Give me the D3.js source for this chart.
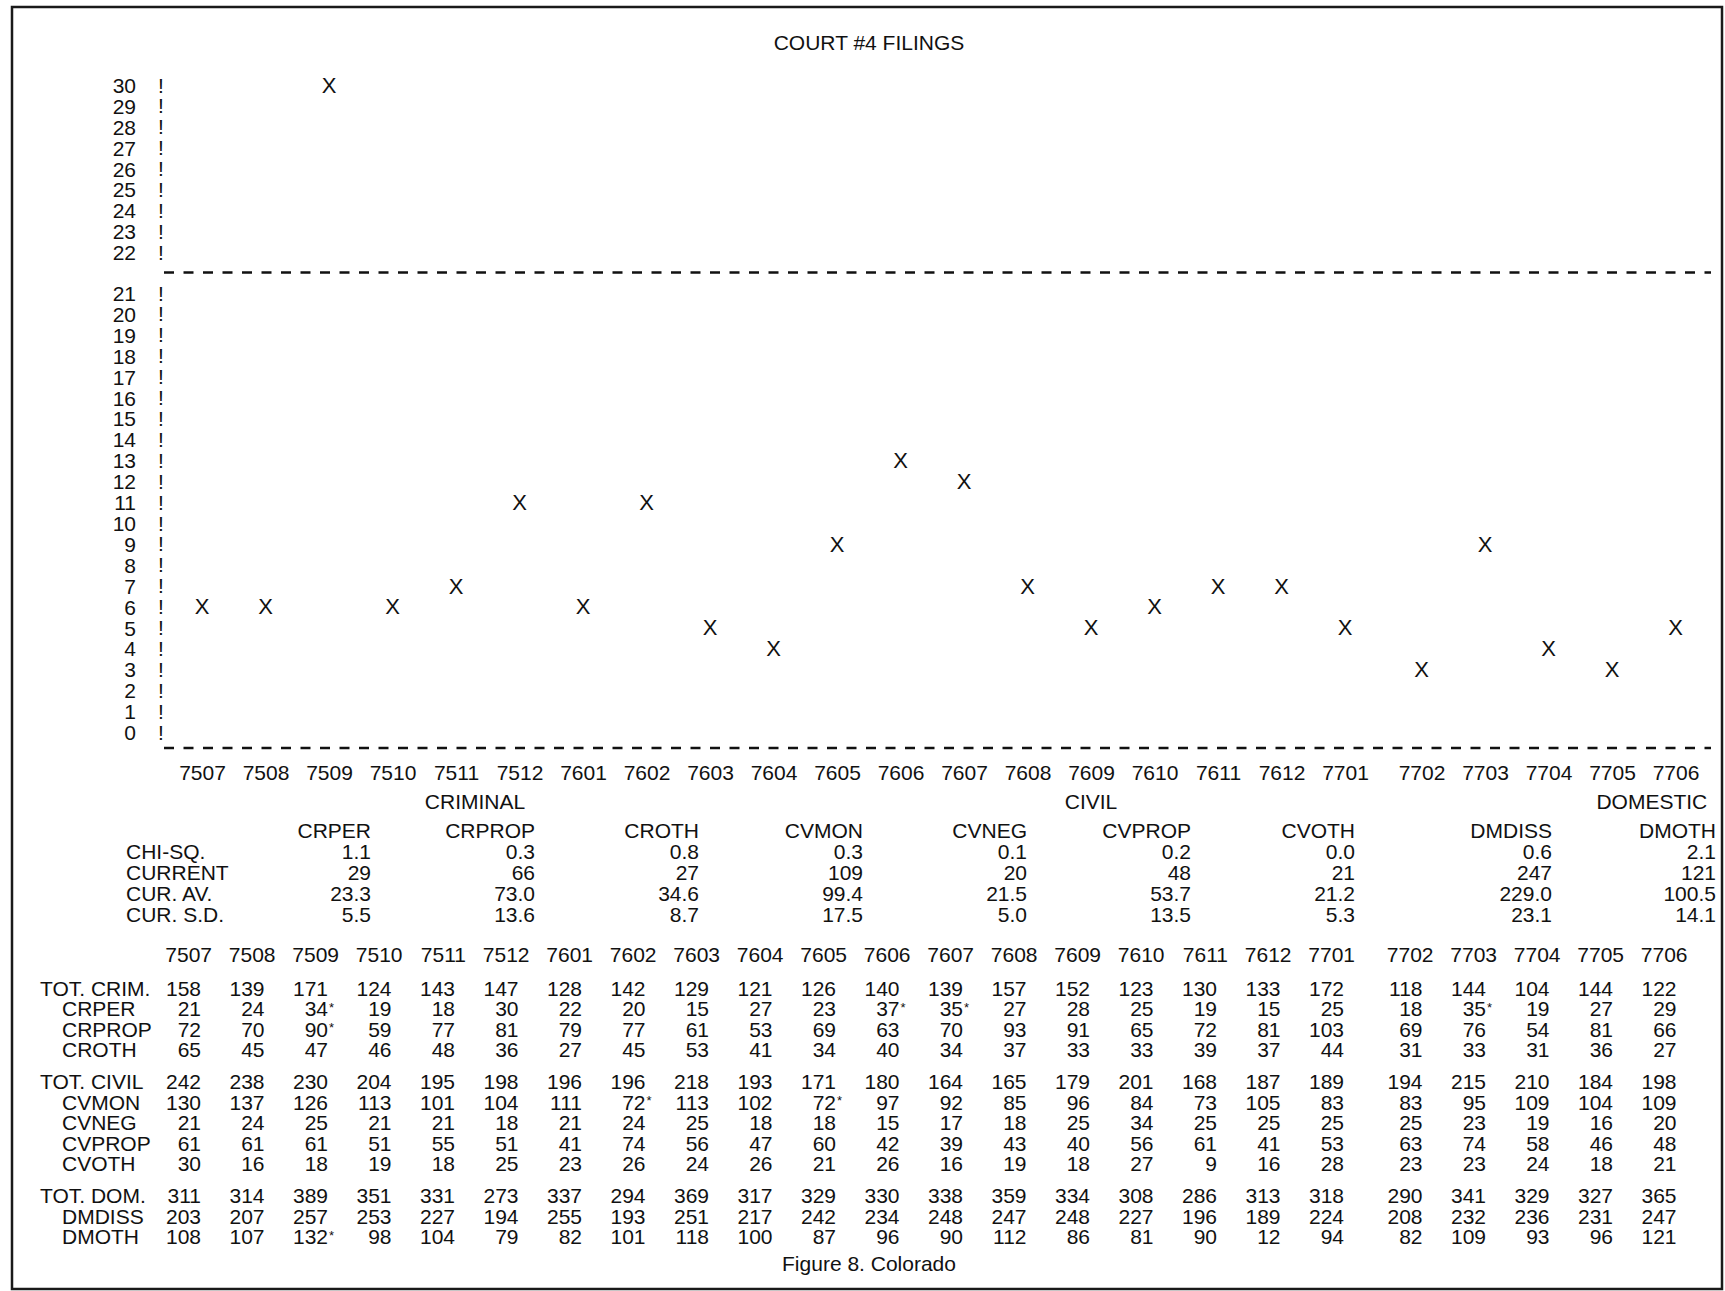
<!DOCTYPE html>
<html>
<head>
<meta charset="utf-8">
<script src="https://cdn.jsdelivr.net/npm/d3@7"></script>
<style>
  body { margin: 0; background: #fff; }
  text { font-family: "Liberation Sans", Arial, sans-serif; font-size: 21px; fill: #111; }
</style>
</head>
<body>
<div id="canvas"></div>
<script>
var width = 1725;
var height = 1291;

// months of the series
var months = ["7507","7508","7509","7510","7511","7512",
              "7601","7602","7603","7604","7605","7606","7607","7608","7609","7610","7611","7612",
              "7701","7702","7703","7704","7705","7706"];

// plotted values (one X per month)
var plotValues = [6, 6, 30, 6, 7, 11, 6, 11, 5, 4, 9, 13, 12, 7, 5, 6, 7, 7, 5, 3, 9, 4, 3, 5];

var yTicks = d3.range(0, 31);

var groups = ["CRIMINAL", "CIVIL", "DOMESTIC"];

// summary statistics
var statCols = ["CRPER", "CRPROP", "CROTH", "CVMON", "CVNEG", "CVPROP", "CVOTH", "DMDISS", "DMOTH"];
var statLabels = ["CHI-SQ.", "CURRENT", "CUR. AV.", "CUR. S.D."];
var chiSq   = ["1.1", "0.3", "0.8", "0.3", "0.1", "0.2", "0.0", "0.6", "2.1"];
var current = ["29", "66", "27", "109", "20", "48", "21", "247", "121"];
var curAv   = ["23.3", "73.0", "34.6", "99.4", "21.5", "53.7", "21.2", "229.0", "100.5"];
var curSd   = ["5.5", "13.6", "8.7", "17.5", "5.0", "13.5", "5.3", "23.1", "14.1"];

// monthly filings table
var totCrim  = [158,139,171,124,143,147,128,142,129,121,126,140,139,157,152,123,130,133,172,118,144,104,144,122];
var crper    = [21,24,34,19,18,30,22,20,15,27,23,37,35,27,28,25,19,15,25,18,35,19,27,29];
var crprop   = [72,70,90,59,77,81,79,77,61,53,69,63,70,93,91,65,72,81,103,69,76,54,81,66];
var croth    = [65,45,47,46,48,36,27,45,53,41,34,40,34,37,33,33,39,37,44,31,33,31,36,27];
var totCivil = [242,238,230,204,195,198,196,196,218,193,171,180,164,165,179,201,168,187,189,194,215,210,184,198];
var cvmon    = [130,137,126,113,101,104,111,72,113,102,72,97,92,85,96,84,73,105,83,83,95,109,104,109];
var cvneg    = [21,24,25,21,21,18,21,24,25,18,18,15,17,18,25,34,25,25,25,25,23,19,16,20];
var cvprop   = [61,61,61,51,55,51,41,74,56,47,60,42,39,43,40,56,61,41,53,63,74,58,46,48];
var cvoth    = [30,16,18,19,18,25,23,26,24,26,21,26,16,19,18,27,9,16,28,23,23,24,18,21];
var totDom   = [311,314,389,351,331,273,337,294,369,317,329,330,338,359,334,308,286,313,318,290,341,329,327,365];
var dmdiss   = [203,207,257,253,227,194,255,193,251,217,242,234,248,247,248,227,196,189,224,208,232,236,231,247];
var dmoth    = [108,107,132,98,104,79,82,101,118,100,87,96,90,112,86,81,90,12,94,82,109,93,96,121];

// values marked with an asterisk
var flagged = { "CRPER": ["7509","7606","7607","7703"], "CRPROP": ["7509"], "CVMON": ["7602","7605"], "DMOTH": ["7509"] };

var tableRows = [
  { label: "TOT. CRIM.",  values: totCrim,  top: true,  group: 0 },
  { label: "CRPER",       values: crper,    top: false, group: 0 },
  { label: "CRPROP",      values: crprop,   top: false, group: 0 },
  { label: "CROTH",       values: croth,    top: false, group: 0 },
  { label: "TOT. CIVIL",  values: totCivil, top: true,  group: 1 },
  { label: "CVMON",       values: cvmon,    top: false, group: 1 },
  { label: "CVNEG",       values: cvneg,    top: false, group: 1 },
  { label: "CVPROP",      values: cvprop,   top: false, group: 1 },
  { label: "CVOTH",       values: cvoth,    top: false, group: 1 },
  { label: "TOT. DOM.",   values: totDom,   top: true,  group: 2 },
  { label: "DMDISS",      values: dmdiss,   top: false, group: 2 },
  { label: "DMOTH",       values: dmoth,    top: false, group: 2 }
];

var svg = d3.select("#canvas").append("svg")
      .attr("width", width)
      .attr("height", height);

// page frame
svg.append("rect")
    .attr("x", 12).attr("y", 7)
    .attr("width", 1710).attr("height", 1282)
    .attr("fill", "none")
    .attr("stroke", "#1a1a1a")
    .attr("stroke-width", 2.5);

svg.append("text")
    .attr("x", 869).attr("y", 42).attr("dy", "0.36em")
    .attr("text-anchor", "middle")
    .text("COURT #4 FILINGS");

// scales (extra gap before 7702, broken y axis between 21 and 22)
var step = 63.5, gap = 13;
var x = d3.scaleLinear()
    .domain([0, 18, 19, 23])
    .range([202, 202 + 18 * step, 202 + 19 * step + gap, 202 + 23 * step + gap]);

var y = d3.scaleLinear()
    .domain([0, 21, 22, 30])
    .range([732, 293, 252, 85]);

// y axis: numbers and "!" marks
var yAxis = svg.append("g")
    .attr("transform", "translate(136,0)")
    .call(d3.axisLeft(y).tickValues(yTicks).tickSize(0).tickPadding(0));
yAxis.select(".domain").remove();
yAxis.selectAll("text")
    .attr("dy", "0.36em")
    .style("font-family", '"Liberation Sans", Arial, sans-serif')
    .style("font-size", "21px")
    .attr("fill", "#111");

svg.selectAll("text.bang")
    .data(yTicks)
    .join("text")
    .attr("class", "bang")
    .attr("x", 161)
    .attr("y", d => y(d))
    .attr("dy", "0.36em")
    .attr("text-anchor", "middle")
    .text("!");

// dashed break line and baseline
[y(21.5), y(0) + 16].forEach(function(ly) {
  svg.append("line")
      .attr("x1", 164).attr("x2", 1711)
      .attr("y1", ly).attr("y2", ly)
      .attr("stroke", "#111")
      .attr("stroke-width", 2.5)
      .attr("stroke-dasharray", "10,9.5");
});

// x axis labels
var xAxis = svg.append("g")
    .attr("transform", "translate(0,765.5)")
    .call(d3.axisBottom(x).tickValues(d3.range(months.length)).tickFormat(i => months[i]).tickSize(0).tickPadding(0));
xAxis.select(".domain").remove();
xAxis.selectAll("text")
    .style("font-family", '"Liberation Sans", Arial, sans-serif')
    .style("font-size", "21px")
    .attr("fill", "#111");

// the X marks
svg.selectAll("text.mark")
    .data(plotValues)
    .join("text")
    .attr("class", "mark")
    .attr("x", (d, i) => x(i))
    .attr("y", d => y(d))
    .attr("dy", "0.36em")
    .attr("text-anchor", "middle")
    .style("font-size", "22px")
    .text("X");

// group labels under the axis
var groupPos = [4.3, 14, 23.5];
var groupAnchor = ["middle", "middle", "end"];
svg.selectAll("text.group")
    .data(groups)
    .join("text")
    .attr("class", "group")
    .attr("x", (d, i) => x(groupPos[i]))
    .attr("y", 801).attr("dy", "0.36em")
    .attr("text-anchor", (d, i) => groupAnchor[i])
    .text(d => d);

// summary statistics block
var statX = d3.scaleLinear().domain([0, 6, 7, 8]).range([371, 371 + 6 * 164, 1552, 1716]);
var statRows = [chiSq, current, curAv, curSd];

svg.selectAll("text.stathead")
    .data(statCols)
    .join("text")
    .attr("class", "stathead")
    .attr("x", (d, i) => statX(i))
    .attr("y", 830).attr("dy", "0.36em")
    .attr("text-anchor", "end")
    .text(d => d);

statRows.forEach(function(row, r) {
  var ry = 851 + 21 * r;
  svg.append("text")
      .attr("x", 126).attr("y", ry).attr("dy", "0.36em")
      .text(statLabels[r]);
  svg.selectAll("text.stat" + r)
      .data(row)
      .join("text")
      .attr("class", "stat" + r)
      .attr("x", (d, i) => statX(i))
      .attr("y", ry).attr("dy", "0.36em")
      .attr("text-anchor", "end")
      .text(d => d);
});

// monthly table
var tx = d3.scaleLinear()
    .domain([0, 18, 19, 23])
    .range([212, 212 + 18 * step, 212 + 19 * step + 15, 212 + 23 * step + 15]);

svg.selectAll("text.thead")
    .data(months)
    .join("text")
    .attr("class", "thead")
    .attr("x", (d, i) => tx(i))
    .attr("y", 954).attr("dy", "0.36em")
    .attr("text-anchor", "end")
    .text(d => d);

tableRows.forEach(function(row, r) {
  var ry = 988 + 20.6 * r + 11 * row.group;
  svg.append("text")
      .attr("x", row.top ? 40 : 62)
      .attr("y", ry).attr("dy", "0.36em")
      .text(row.label);
  svg.selectAll("text.row" + r)
      .data(row.values)
      .join("text")
      .attr("class", "row" + r)
      .attr("x", (d, i) => tx(i) - 11)
      .attr("y", ry).attr("dy", "0.36em")
      .attr("text-anchor", "end")
      .text(d => d);
  var marks = flagged[row.label] || [];
  marks.forEach(function(m) {
    var i = months.indexOf(m);
    svg.append("text")
        .attr("x", tx(i) - 10)
        .attr("y", ry + 3)
        .style("font-size", "13px")
        .text("*");
  });
});

svg.append("text")
    .attr("x", 869).attr("y", 1263).attr("dy", "0.36em")
    .attr("text-anchor", "middle")
    .text("Figure 8. Colorado");
</script>
</body>
</html>
